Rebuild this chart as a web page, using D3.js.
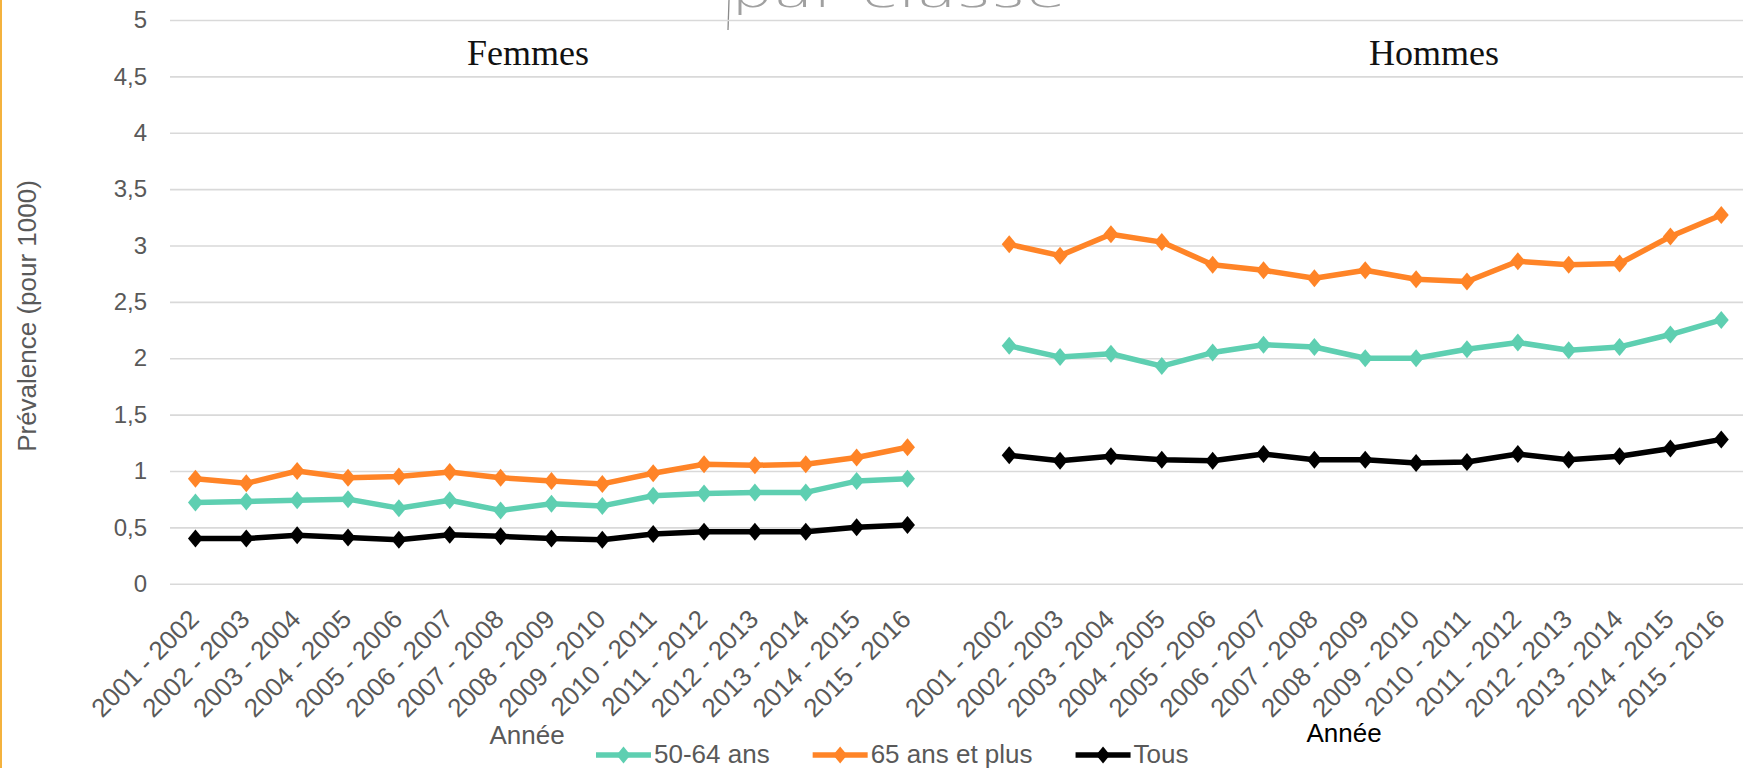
<!DOCTYPE html>
<html>
<head>
<meta charset="utf-8">
<script src="https://cdn.jsdelivr.net/npm/d3@7"></script>
<style>
  html, body { margin: 0; padding: 0; background: #fff; }
  svg { display: block; }
</style>
</head>
<body>
<svg id="chart" width="1743" height="768"></svg>
<script>
// ---------- data ----------
const categories = ["2001 - 2002","2002 - 2003","2003 - 2004","2004 - 2005","2005 - 2006","2006 - 2007","2007 - 2008","2008 - 2009","2009 - 2010","2010 - 2011","2011 - 2012","2012 - 2013","2013 - 2014","2014 - 2015","2015 - 2016"];
const panels = ["Femmes", "Hommes"];
const seriesNames = ["50-64 ans", "65 ans et plus", "Tous"];

const femmes5064 = [0.72, 0.73, 0.74, 0.75, 0.67, 0.74, 0.65, 0.71, 0.69, 0.78, 0.80, 0.81, 0.81, 0.91, 0.93];
const femmes65   = [0.93, 0.89, 1.00, 0.94, 0.95, 0.99, 0.94, 0.91, 0.885, 0.98, 1.06, 1.05, 1.06, 1.12, 1.21];
const femmesTous = [0.40, 0.40, 0.43, 0.41, 0.39, 0.435, 0.42, 0.40, 0.39, 0.44, 0.46, 0.46, 0.46, 0.50, 0.52];

const hommes5064 = [2.11, 2.01, 2.04, 1.93, 2.05, 2.12, 2.10, 2.00, 2.00, 2.08, 2.14, 2.07, 2.10, 2.21, 2.34];
const hommes65   = [3.01, 2.91, 3.10, 3.03, 2.83, 2.78, 2.71, 2.78, 2.70, 2.68, 2.86, 2.83, 2.84, 3.08, 3.27];
const hommesTous = [1.14, 1.09, 1.13, 1.10, 1.09, 1.15, 1.10, 1.10, 1.07, 1.08, 1.15, 1.10, 1.13, 1.20, 1.28];

const yTicks = [0, 0.5, 1, 1.5, 2, 2.5, 3, 3.5, 4, 4.5, 5];
const yTitle = "Prévalence (pour 1000)";
const xTitle = "Année";

// ---------- styles ----------
const colors = { "50-64 ans": "#5ECFB1", "65 ans et plus": "#FF8427", "Tous": "#000000" };
const sans = "'Liberation Sans', Arial, sans-serif";
const serif = "'Liberation Serif', 'Times New Roman', serif";
const grey = "#595959";

const svg = d3.select("#chart");
const W = 1743, H = 768;
const plotLeft = 170, plotTop = 20, plotBottom = 583.7;

// x keys: Femmes categories, a gap, Hommes categories
const keys = [
  ...categories.map(c => "Femmes|" + c),
  "gap",
  ...categories.map(c => "Hommes|" + c)
];
const x = d3.scaleBand().domain(keys).range([plotLeft, 1746.7]).padding(0);
const cx = k => x(k) + x.bandwidth() / 2;
const y = d3.scaleLinear().domain([0, 5]).range([plotBottom, plotTop]);

// left orange border
svg.append("rect").attr("x", 0).attr("y", 0).attr("width", 2).attr("height", H).attr("fill", "#F4B23E");

// handwritten scribble partially visible at top
svg.append("text")
  .attr("x", 731).attr("y", 7)
  .attr("font-family", "'DejaVu Sans', sans-serif").attr("font-weight", 200)
  .attr("font-size", 40).attr("fill", "#a0a0a0")
  .attr("textLength", 335).attr("lengthAdjust", "spacingAndGlyphs")
  .text("par classe");
svg.append("line").attr("x1", 729).attr("x2", 728).attr("y1", 0).attr("y2", 30)
  .attr("stroke", "#8a8a8a").attr("stroke-width", 1.3);

// gridlines + y tick labels
const fmt = d => String(d).replace(".", ",");
const yAxis = svg.append("g")
  .attr("transform", `translate(${plotLeft},0)`)
  .call(d3.axisLeft(y).tickValues(yTicks).tickSize(-(W - plotLeft)).tickPadding(23).tickFormat(fmt));
yAxis.select(".domain").remove();
yAxis.selectAll(".tick line").attr("stroke", "#D9D9D9").attr("stroke-width", 1.6);
yAxis.selectAll(".tick text").attr("fill", grey).attr("font-family", sans).attr("font-size", 24);

// x axis category labels
const xAxis = svg.append("g")
  .attr("transform", `translate(0,${plotBottom})`)
  .call(d3.axisBottom(x).tickSize(0).tickFormat(k => k === "gap" ? "" : k.split("|")[1]));
xAxis.select(".domain").remove();
xAxis.selectAll(".tick text")
  .attr("fill", grey).attr("font-family", sans).attr("font-size", 26)
  .attr("text-anchor", "end")
  .attr("dy", null)
  .attr("y", 0)
  .attr("transform", "translate(5,37) rotate(-45)");

// y title
svg.append("text")
  .attr("transform", "translate(36,316) rotate(-90)")
  .attr("text-anchor", "middle")
  .attr("font-family", sans).attr("font-size", 26).attr("fill", grey)
  .text(yTitle);

// x titles
svg.append("text").attr("x", 527).attr("y", 744).attr("text-anchor", "middle")
  .attr("font-family", sans).attr("font-size", 26).attr("fill", grey).text(xTitle);
svg.append("text").attr("x", 1344).attr("y", 742).attr("text-anchor", "middle")
  .attr("font-family", sans).attr("font-size", 26).attr("fill", "#000").text(xTitle);

// panel titles
svg.append("text").attr("x", 528).attr("y", 65).attr("text-anchor", "middle")
  .attr("font-family", serif).attr("font-size", 36).attr("fill", "#111").text(panels[0]);
svg.append("text").attr("x", 1434).attr("y", 65).attr("text-anchor", "middle")
  .attr("font-family", serif).attr("font-size", 36).attr("fill", "#111").text(panels[1]);

// series
const seriesData = [
  { panel: "Femmes", name: "50-64 ans", values: femmes5064 },
  { panel: "Femmes", name: "65 ans et plus", values: femmes65 },
  { panel: "Femmes", name: "Tous", values: femmesTous },
  { panel: "Hommes", name: "50-64 ans", values: hommes5064 },
  { panel: "Hommes", name: "65 ans et plus", values: hommes65 },
  { panel: "Hommes", name: "Tous", values: hommesTous }
];
const order = seriesNames;
seriesData.sort((a, b) => order.indexOf(a.name) - order.indexOf(b.name));

const diamond = (px, py, hw, hh) => `M${px},${py - hh}L${px + hw},${py}L${px},${py + hh}L${px - hw},${py}Z`;
const line = d3.line().x(d => cx(d.k)).y(d => y(d.v));

seriesData.forEach(s => {
  const pts = s.values.map((v, i) => ({ k: s.panel + "|" + categories[i], v }));
  const g = svg.append("g");
  g.append("path").attr("d", line(pts)).attr("fill", "none")
    .attr("stroke", colors[s.name]).attr("stroke-width", 5.5).attr("stroke-linejoin", "round");
  g.selectAll("path.m").data(pts).join("path").attr("class", "m")
    .attr("d", d => diamond(cx(d.k), y(d.v), 7.5, 9))
    .attr("fill", colors[s.name]);
});

// legend
const legend = svg.append("g");
let lx = 596;
const ly = 755;
seriesNames.forEach(n => {
  legend.append("line").attr("x1", lx).attr("x2", lx + 55).attr("y1", ly).attr("y2", ly)
    .attr("stroke", colors[n]).attr("stroke-width", 5.5);
  legend.append("path").attr("d", diamond(lx + 27.5, ly, 7, 8.5)).attr("fill", colors[n]);
  const t = legend.append("text").attr("x", lx + 58).attr("y", ly + 7.5)
    .attr("font-family", sans).attr("font-size", 26).attr("fill", grey).text(n);
  lx += 58 + t.node().getComputedTextLength() + 43;
});
</script>
</body>
</html>
